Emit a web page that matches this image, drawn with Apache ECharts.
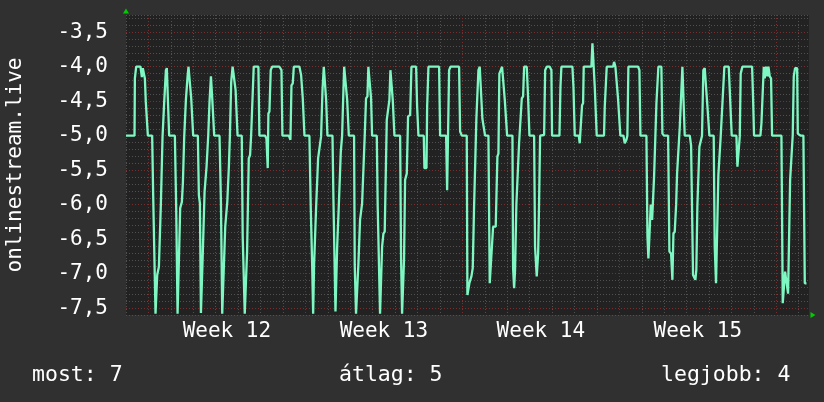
<!DOCTYPE html>
<html>
<head>
<meta charset="utf-8">
<script src="https://cdn.jsdelivr.net/npm/echarts@6/dist/echarts.min.js"></script>
<style>
html,body{margin:0;padding:0;background:#303030;}
#c{width:824px;height:402px;}
</style>
</head>
<body>
<div id="c"></div>
<script>
// Hours relative to the start of Week 12
const hours = [
-24,-14.9,-14.5,-13.1,-8.5,-7.0,-6.0,-4.5,-3.8,-2.8,-0.6,4.0,5.1,6.5,7.6,8.7,9.4,11.2,13.3,15.1,16.9,18.7,19.7,20.8,22.2,
28.3,29.7,31.2,32.9,34.0,35.8,36.9,38.3,40.1,41.9,42.9,44.7,45.8,47.9,52.9,54.0,55.1,56.2,57.2,57.9,60.1,62.2,64.0,65.4,
66.9,67.6,68.3,70.4,76.1,77.6,79.0,81.1,82.2,84.4,86.1,87.2,88.6,90.1,92.2,93.3,95.4,
99.9,100.9,102.0,103.1,104.5,105.6,106.3,107.4,108.8,109.9,111.3,112.7,117.7,118.8,124.9,126.3,127.7,128.4,129.5,130.9,
132.4,140.2,142.4,143.4,150.2,152.0,153.1,154.5,155.6,161.6,163.4,165.2,167.0,172.3,173.8,175.2,176.3,177.3,179.5,181.6,
184.8,186.3,187.7,188.8,190.2,191.6,197.0,198.0,199.1,200.2,201.3,202.0,203.8,205.9,207.3,208.4,209.5,211.6,212.7,214.5,
220.1,220.8,222.2,223.7,224.7,226.5,228.7,230.1,231.5,232.9,234.4,235.4,237.2,238.3,239.4,244.4,245.4,246.9,247.9,249.4,
250.1,251.5,252.9,255.1,256.9,257.9,259.0,260.4,261.5,263.3,269.4,270.4,271.5,272.9,273.6,274.7,276.5,277.9,280.1,281.5,
286.5,287.6,289.0,294.7,295.4,297.6,298.3,299.7,311.1,312.2,318.6,319.7,320.8,321.8,323.3,332.5,333.6,335.4,
340.7,341.4,342.4,343.5,345.7,347.1,348.5,349.9,351.0,352.1,353.2,354.6,356.4,357.4,359.2,360.3,363.9,365.3,367.4,368.9,
371.7,373.5,374.6,375.6,377.1,378.5,380.6,381.4,382.8,383.9,389.6,390.3,391.4,392.4,393.8,395.6,396.7,398.5,399.6,401.0,
402.1,404.9,406.3,407.8,412.8,413.8,415.6,417.1,418.1,419.2,423.5,424.6,426.3,429.5,431.3,432.0,439.9,441.0,442.0,453.8,
454.9,456.3,460.6,
461.6,463.0,464.1,465.2,465.9,474.1,475.2,476.9,477.7,478.7,479.8,487.6,488.4,489.4,490.5,497.3,498.4,499.8,501.6,502.6,
504.1,505.1,508.4,509.8,511.6,512.6,513.7,524.1,525.5,526.6,533.0,534.1,535.1,536.2,537.6,539.1,540.1,541.2,542.6,543.7,
544.8,545.8,549.0,550.1,551.9,556.2,557.6,559.4,560.8,561.9,563.3,564.8,565.8,566.9,568.7,570.1,571.5,573.0,574.0,579.4,
580.8,581.9,
582.9,584.3,585.4,586.4,587.5,588.9,589.7,591.1,592.5,593.9,595.4,597.2,598.2,599.3,600.4,605.0,606.1,607.5,608.9,610.0,
611.1,612.5,614.3,616.4,621.1,622.1,623.6,624.3,629.3,630.4,631.8,632.9,633.9,635.7,646.1,647.1,648.2,655.0,656.1,657.5,
658.6,659.6,661.1,662.5,663.6,665.0,666.4,667.5,677.5,678.9,680.3,681.4,683.5,684.6,686.0,686.8,688.2,689.6,690.7,692.1,
694.3,695.0,696.8,698.2,701.0,702.5,704.3
];
const values = [
-5.00,-5.00,-4.17,-4.00,-4.00,-4.15,-4.02,-4.00,-4.17,-4.51,-5.00,-5.00,-5.87,-5.88,-7.58,-7.58,-7.02,-6.90,-6.00,-5.02,-4.51,-4.05,-4.02,-4.46,-5.00,
-5.00,-6.03,-7.58,-7.58,-6.05,-5.96,-5.68,-5.02,-4.48,-4.14,-4.00,-4.02,-4.46,-5.00,-5.00,-5.86,-5.98,-7.57,-7.57,-6.83,-5.81,-5.45,-5.00,-4.51,
-4.14,-4.14,-4.46,-5.00,-5.00,-5.96,-7.58,-7.58,-6.32,-5.96,-5.45,-5.00,-4.22,-4.00,-4.00,-4.34,-5.00,
-5.00,-6.46,-6.46,-7.58,-7.58,-6.68,-6.68,-5.33,-5.28,-5.00,-5.00,-4.00,-4.00,-5.00,-5.00,-5.04,-5.47,-4.68,-4.65,-4.05,
-4.00,-4.00,-4.05,-5.00,-5.00,-5.06,-4.27,-4.24,-4.00,-4.00,-4.12,-4.46,-5.00,-5.00,-6.08,-6.85,-7.58,-6.87,-6.03,-5.33,
-5.01,-4.34,-4.00,-4.00,-4.48,-5.00,-5.00,-5.91,-5.93,-7.55,-7.55,-6.61,-6.00,-5.23,-5.00,-4.48,-4.00,-4.00,-4.48,-5.00,
-5.00,-6.87,-7.58,-7.58,-6.87,-6.22,-5.98,-5.96,-5.00,-4.46,-4.43,-4.00,-4.00,-4.46,-5.00,-5.00,-6.03,-6.05,-7.58,-7.58,
-6.61,-6.42,-6.39,-4.77,-4.77,-4.48,-4.05,-4.05,-4.48,-5.00,-5.00,-6.78,-7.58,-7.58,-6.78,-5.64,-5.55,-4.72,-4.70,-4.00,
-4.00,-4.58,-5.00,-5.00,-5.47,-5.47,-4.58,-4.00,-4.00,-5.00,-5.00,-5.79,-5.79,-4.05,-4.00,-4.00,-4.94,-5.00,
-5.00,-7.31,-7.33,-7.14,-7.04,-6.92,-6.05,-6.03,-4.75,-4.75,-4.05,-4.00,-4.00,-4.75,-4.77,-5.00,-5.00,-7.14,-7.14,-6.32,
-6.32,-5.30,-5.26,-4.10,-4.05,-4.00,-4.00,-4.48,-4.48,-5.00,-5.00,-6.92,-7.21,-6.95,-6.00,-5.98,-5.11,-5.09,-4.46,-4.43,
-4.00,-4.00,-4.43,-5.00,-5.00,-6.61,-7.04,-6.71,-5.98,-5.00,-4.99,-4.05,-4.00,-4.00,-4.05,-5.00,-5.00,-4.29,-4.00,-4.00,
-4.29,-5.00,-5.00,
-5.11,-5.11,-4.56,-4.53,-4.00,-4.00,-3.66,-3.66,-4.29,-4.29,-5.00,-5.00,-4.58,-4.58,-4.00,-4.00,-3.93,-4.00,-4.00,-4.46,
-4.48,-5.00,-5.00,-5.11,-5.06,-5.00,-4.00,-4.00,-4.05,-5.00,-5.00,-6.46,-6.78,-6.46,-6.00,-6.22,-6.22,-5.59,-5.57,-4.53,
-4.53,-4.00,-4.00,-4.97,-5.00,-5.00,-6.68,-6.71,-7.09,-6.42,-6.39,-6.00,-5.55,-5.55,-4.87,-4.85,-4.00,-4.00,-5.00,-5.00,
-5.14,-5.14,
-7.02,-7.04,-7.09,-6.95,-6.03,-6.03,-5.16,-5.14,-5.00,-4.05,-4.02,-4.00,-4.56,-4.58,-5.00,-5.00,-6.61,-7.14,-7.14,-5.57,
-5.57,-5.01,-5.00,-4.00,-4.00,-4.31,-4.31,-5.00,-5.00,-5.45,-5.45,-5.01,-4.10,-4.00,-4.00,-4.43,-5.00,-5.00,-4.82,-4.80,
-4.00,-4.17,-4.00,-4.14,-4.00,-4.14,-4.17,-5.00,-5.00,-7.43,-7.43,-6.97,-6.97,-7.29,-7.29,-5.64,-5.62,-4.99,-4.14,-4.02,
-4.02,-4.97,-4.97,-5.00,-5.00,-7.14,-7.14
];
const weekCenters = [84, 252, 420, 588];
const weekLabels = ['Week 12', 'Week 13', 'Week 14', 'Week 15'];
const seriesName = 'onlinestream.live';
const summaryNames = ['most', 'átlag', 'legjobb'];
const summaryValues = [7, 5, 4];

const FONT = '"DejaVu Sans Mono", monospace';
const FS = 21;
const GRAY = '#505050', RED = '#772e2e', NONE = 'rgba(0,0,0,0)';

const data = hours.map((h, i) => [h, values[i]]);
const chart = echarts.init(document.getElementById('c'), null, {renderer: 'canvas'});
chart.setOption({
  backgroundColor: '#303030',
  animation: false,
  grid: {left: 126, right: 15, top: 15, bottom: 87, show: true, backgroundColor: '#222222', borderWidth: 0, containLabel: false, outerBoundsMode: 'none'},
  xAxis: {
    type: 'value', min: -24, max: 707, interval: 12,
    axisLine: {show: true, onZero: false, symbol: ['none', 'triangle'], symbolSize: [6, 5], symbolOffset: [0, 4], lineStyle: {color: '#00cc00', width: 0}},
    axisTick: {show: false},
    axisLabel: {
      margin: 6, color: '#ffffff', fontFamily: FONT, fontSize: FS, showMinLabel: true, showMaxLabel: true,
      formatter: function (v) { const i = weekCenters.indexOf(Math.round(v)); return i >= 0 ? weekLabels[i] : ''; }
    },
    splitLine: {show: true, showMinLine: true, showMaxLine: false, lineStyle: {type: [1, 2], width: 1,
      color: [GRAY, NONE, RED, NONE, GRAY, NONE, GRAY, NONE, GRAY, NONE, GRAY, NONE, GRAY, NONE]}}
  },
  yAxis: {
    type: 'value', min: -7.6, max: -3.25, interval: 0.1,
    name: seriesName, nameLocation: 'middle', nameGap: 100, nameRotate: 90,
    nameTextStyle: {color: '#ffffff', fontFamily: FONT, fontSize: FS},
    axisLine: {show: true, onZero: false, symbol: ['none', 'triangle'], symbolSize: [6, 5], symbolOffset: [0, 4], lineStyle: {color: '#00cc00', width: 0}},
    axisTick: {show: false},
    axisLabel: {
      margin: 18, color: '#ffffff', fontFamily: FONT, fontSize: FS,
      formatter: function (v) { return Math.abs(v * 2 - Math.round(v * 2)) < 1e-6 ? v.toFixed(1).replace('.', ',') : ''; }
    },
    splitLine: {show: true, showMinLine: true, showMaxLine: true, lineStyle: {type: [1, 2], width: 1,
      color: [GRAY, RED, GRAY, GRAY, GRAY]}}
  },
  graphic: summaryNames.map((n, i) => ({
    type: 'text',
    x: [32, 339, 661][i], y: 375,
    style: {text: n + ': ' + summaryValues[i], fill: '#ffffff', font: '21.5px ' + FONT, verticalAlign: 'middle', align: 'left'}
  })),
  series: [{
    type: 'line', name: seriesName, data: data, showSymbol: false, clip: true,
    lineStyle: {color: '#7ef7c2', width: 2.3}, z: 5
  }]
});
</script>
</body>
</html>
